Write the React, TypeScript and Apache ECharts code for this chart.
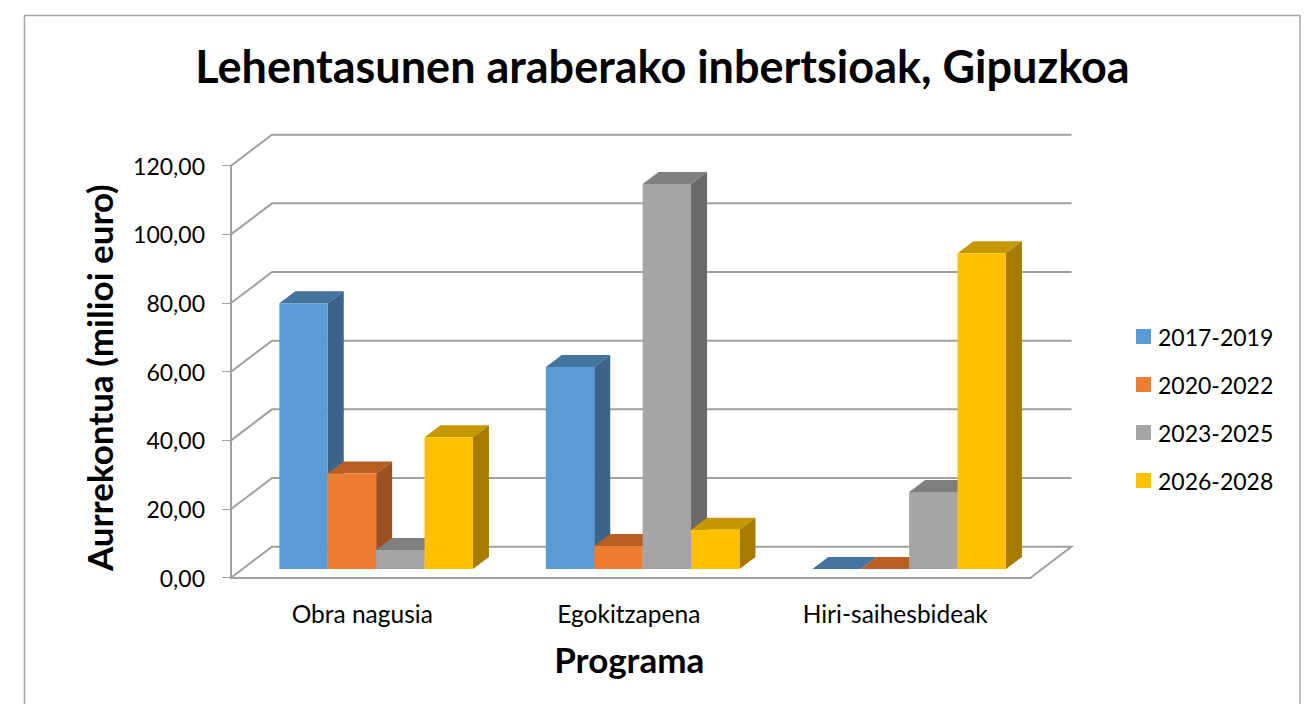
import React, { useEffect, useRef } from "react";
import * as echarts from "echarts";

const categories = ["Obra nagusia", "Egokitzapena", "Hiri-saihesbideak"];
const periods = ["2017-2019", "2020-2022", "2023-2025", "2026-2028"];
const values2017 = [77.4, 58.8, 0];
const values2020 = [27.8, 6.7, 0];
const values2023 = [5.5, 112.1, 22.4];
const values2026 = [38.4, 11.4, 92];
const yTicks = [0, 20, 40, 60, 80, 100, 120];

const seriesValues = [values2017, values2020, values2023, values2026];
const fronts = ["#5B9BD5", "#ED7D31", "#A5A5A5", "#FFC000"];
const tops = ["#43739F", "#B85F26", "#7F7F7F", "#C79700"];
const sides = ["#3C6489", "#9C5120", "#696969", "#A67C00"];

const FONT = "Lato";
const LINE = "#A0A0A0";
const WALL_DX = 41;
const WALL_DY = 31;
const BAR_DX = 16;
const BAR_DY = 12;
const BASE_DX = 11.9;
const BASE_DY = 8.7;
const BAR_W = 48.4;

export default function App() {
  const ref = useRef<HTMLDivElement>(null);
  useEffect(() => {
    const chart = echarts.init(ref.current!, undefined, { renderer: "svg" });
    const wall = {
      type: "custom",
      silent: true,
      z: 1,
      data: yTicks.map((v) => [0, v]),
      encode: { x: 0, y: 1 },
      renderItem: (params: any, api: any) => {
        const v = api.value(1);
        const y = api.coord([0, v])[1];
        const cs = params.coordSys;
        const x0 = cs.x;
        const x1 = cs.x + cs.width;
        const points: number[][] = [
          [x0, y],
          [x0 + WALL_DX, y - WALL_DY],
          [x1 + WALL_DX, y - WALL_DY],
        ];
        if (v === 0) points.push([x1, y]);
        return {
          type: "polyline",
          shape: { points },
          style: { stroke: LINE, lineWidth: 2, fill: "none" },
        };
      },
    };
    const bars = periods.map((name, j) => ({
      type: "custom",
      name,
      silent: true,
      z: 2 + j,
      itemStyle: { color: fronts[j] },
      data: seriesValues[j].map((v, i) => [i, v]),
      encode: { x: 0, y: 1 },
      renderItem: (_p: any, api: any) => {
        const i = api.value(0);
        const top = api.coord([i, api.value(1)]);
        const base = api.coord([i, 0]);
        const xl = top[0] + BASE_DX + (j - 2) * BAR_W;
        const xr = xl + BAR_W;
        const yb = base[1] - BASE_DY;
        const yt = top[1] - BASE_DY;
        return {
          type: "group",
          children: [
            {
              type: "polygon",
              shape: { points: [[xl, yt], [xl + BAR_DX, yt - BAR_DY], [xr + BAR_DX, yt - BAR_DY], [xr, yt]] },
              style: { fill: tops[j] },
            },
            {
              type: "polygon",
              shape: { points: [[xr, yt], [xr + BAR_DX, yt - BAR_DY], [xr + BAR_DX, yb - BAR_DY], [xr, yb]] },
              style: { fill: sides[j] },
            },
            {
              type: "rect",
              shape: { x: xl, y: yt, width: BAR_W, height: yb - yt },
              style: { fill: fronts[j] },
            },
          ],
        };
      },
    }));
    chart.setOption({
      animation: false,
      backgroundColor: "#FFFFFF",
      title: {
        text: "Lehentasunen araberako inbertsioak, Gipuzkoa",
        left: 657.5,
        top: 38,
        textAlign: "center",
        textStyle: { fontFamily: FONT, fontSize: 45, fontWeight: "bold", color: "#000" },
      },
      graphic: [
        {
          type: "polyline",
          shape: { points: [[24.5, 704], [24.5, 15.5], [1300, 15.5], [1300, 704]] },
          style: { stroke: "#A6A6A6", lineWidth: 1.5, fill: "none" },
          silent: true,
        },
      ],
      legend: {
        orient: "vertical",
        left: 1136,
        top: 325,
        padding: 0,
        data: periods,
        icon: "rect",
        itemWidth: 15,
        itemHeight: 15,
        itemGap: 25,
        selectedMode: false,
        textStyle: { fontFamily: FONT, fontSize: 23, color: "#000", padding: [0, 0, 0, 2] },
      },
      grid: { left: 231, top: 165.7, width: 799.5, height: 412, containLabel: false },
      xAxis: {
        type: "category",
        data: categories,
        name: "Programa",
        nameLocation: "middle",
        nameGap: 64,
        nameTextStyle: {
          fontFamily: FONT,
          fontSize: 35,
          fontWeight: "bold",
          color: "#000",
          padding: [0, 3, 0, 0],
        },
        axisTick: { show: false },
        axisLine: { lineStyle: { color: LINE, width: 2 } },
        axisLabel: { fontFamily: FONT, fontSize: 24.5, color: "#000", margin: 23, padding: [0, 4, 0, 0] },
      },
      yAxis: {
        type: "value",
        min: 0,
        max: 120,
        interval: 20,
        name: "Aurrekontua (milioi euro)",
        nameLocation: "middle",
        nameRotate: 90,
        nameGap: 115,
        nameTextStyle: {
          fontFamily: FONT,
          fontSize: 35,
          fontWeight: "bold",
          color: "#000",
          padding: [0, 12, 0, 0],
        },
        splitLine: { show: false },
        axisLine: { show: true, lineStyle: { color: LINE, width: 2 } },
        axisTick: { show: true, length: 9, lineStyle: { color: LINE, width: 1 } },
        axisLabel: {
          fontFamily: FONT,
          fontSize: 23,
          color: "#000",
          margin: 26,
          formatter: (v: number) => v.toFixed(2).replace(".", ","),
        },
      },
      series: [wall, ...bars],
    });
    return () => chart.dispose();
  }, []);
  return <div ref={ref} style={{ position: "absolute", left: 0, top: 0, width: 1313, height: 704 }} />;
}
